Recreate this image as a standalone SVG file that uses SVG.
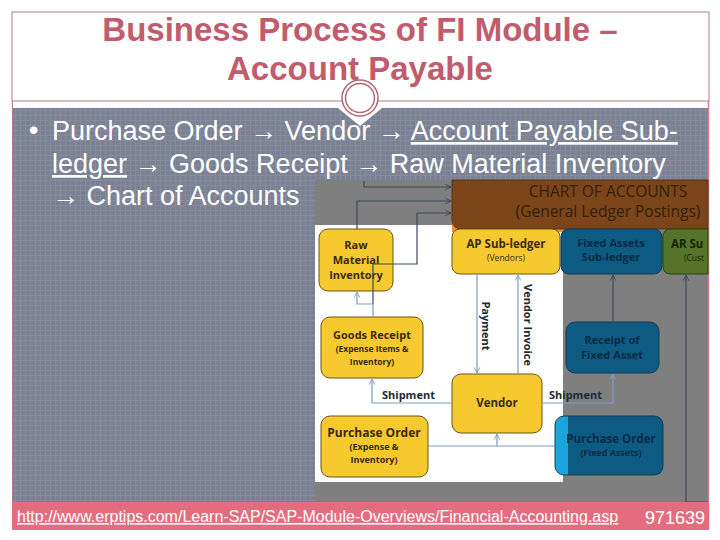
<svg xmlns="http://www.w3.org/2000/svg" width="720" height="540" viewBox="0 0 720 540">
<defs>
<pattern id="grid" width="5" height="5" patternUnits="userSpaceOnUse">
<rect width="5" height="5" fill="#7b8192"/>
<path d="M0 0.5H5M0.5 0V5" stroke="#868c9d" stroke-width="1"/>
</pattern>
<marker id="al" viewBox="0 0 10 10" refX="9" refY="5" markerWidth="7" markerHeight="7" orient="auto" markerUnits="userSpaceOnUse">
<path d="M1 1L9 5L1 9" fill="none" stroke="#7f9cc0" stroke-width="1.3"/>
</marker>
<marker id="ad" viewBox="0 0 10 10" refX="9" refY="5" markerWidth="7" markerHeight="7" orient="auto" markerUnits="userSpaceOnUse">
<path d="M1 1L9 5L1 9" fill="none" stroke="#3b4a5c" stroke-width="1.3"/>
</marker>
</defs>
<style>
.title{font-family:"Liberation Sans",Arial,sans-serif;font-weight:bold;font-size:33px;fill:#c25c6c;text-anchor:middle}
.bul{font-family:"Liberation Sans",Arial,sans-serif;font-size:27px;fill:#ffffff}
.n{font-family:"Open Sans","Liberation Sans",sans-serif;font-weight:bold;text-anchor:middle}
.y{fill:#f6c92e;stroke:#6b5417;stroke-width:1}
.yt{fill:#3b2a0c}
.b{fill:#0d5b82;stroke:#163a52;stroke-width:1}
.bt{fill:#082b44}
.lc{fill:none;stroke:#7f9cc0;stroke-width:1.2}
.dc{fill:none;stroke:#3b4a5c;stroke-width:1.2}
.lbl{font-family:"Open Sans","Liberation Sans",sans-serif;font-weight:bold;font-size:11px;fill:#1e2a33}
</style>
<rect width="720" height="540" fill="#ffffff"/>
<!-- title box -->
<g id="title-box">
<rect x="12" y="12" width="697" height="89" fill="#ffffff" stroke="#b07c88" stroke-width="1"/>
<text class="title" x="360" y="41">Business Process of FI Module –</text>
<text class="title" x="360" y="80">Account Payable</text>
</g>
<!-- content background -->
<rect x="12" y="108" width="697" height="394" fill="url(#grid)"/>
<line x1="12.5" y1="101" x2="12.5" y2="530" stroke="#b07c88" stroke-width="1"/>
<line x1="708.5" y1="101" x2="708.5" y2="530" stroke="#d9808e" stroke-width="1.5"/>
<g id="ornament">
<path d="M338 108 L360 126 L382 108 Z" fill="#ffffff"/>
<circle cx="360" cy="98" r="18" fill="#ffffff" stroke="#b06a78" stroke-width="1.5"/>
<circle cx="360" cy="98" r="14.5" fill="#ffffff" stroke="#b06a78" stroke-width="1.5"/>
</g>
<!-- bullet text -->
<g id="bullet">
<text class="bul" x="29" y="139" font-size="18">•</text>
<text class="bul" x="52" y="140">Purchase Order → Vendor → <tspan text-decoration="underline">Account Payable Sub-</tspan></text>
<text class="bul" x="52" y="173"><tspan text-decoration="underline">ledger</tspan> → Goods Receipt → Raw Material Inventory</text>
<text class="bul" x="52" y="205">→ Chart of Accounts</text>
</g>
<!-- embedded diagram background -->
<rect x="315" y="180" width="393" height="322" fill="#7f7f7f"/>
<rect x="315" y="225" width="248" height="257" fill="#ffffff"/>
<!-- nodes -->
<g id="chart-of-accounts">
<rect x="452" y="224" width="111" height="8" fill="#f08a3a"/>
<path d="M452 180 H708 V229 H462 Q452 229 452 219 Z" fill="#7b4519" stroke="#4a2a10" stroke-width="0.8"/>
<text class="n" x="608" y="197" font-size="15.5" fill="#33200d" style="font-weight:normal">CHART OF ACCOUNTS</text>
<text class="n" x="608" y="217" font-size="15.5" fill="#33200d" style="font-weight:normal">(General Ledger Postings)</text>
</g>
<g id="raw-material">
<rect class="y" x="319" y="229" width="74" height="62" rx="9"/>
<text class="n yt" x="356" y="249" font-size="11">Raw</text>
<text class="n yt" x="356" y="264" font-size="11">Material</text>
<text class="n yt" x="356" y="279" font-size="11">Inventory</text>
</g>
<g id="ap-subledger">
<rect class="y" x="452" y="229" width="108" height="45" rx="8"/>
<text class="n yt" x="506" y="248" font-size="11.5">AP Sub-ledger</text>
<text class="n yt" x="506" y="261" font-size="8.5" style="font-weight:normal">(Vendors)</text>
</g>
<g id="fa-subledger">
<rect class="b" x="561" y="229" width="101" height="45" rx="8"/>
<text class="n bt" x="611" y="247" font-size="11">Fixed Assets</text>
<text class="n bt" x="611" y="261" font-size="11">Sub-ledger</text>
</g>
<g id="ar-subledger">
<path d="M671 229 H708 V274 H671 Q663 274 663 266 V237 Q663 229 671 229 Z" fill="#557429" stroke="#2f4216" stroke-width="1"/>
<text class="n" x="671" y="248" font-size="11.5" fill="#172407" style="text-anchor:start">AR Su</text>
<text class="n" x="684" y="261" font-size="8.5" fill="#172407" style="text-anchor:start;font-weight:normal">(Cust</text>
</g>
<g id="goods-receipt">
<rect class="y" x="321" y="317" width="102" height="61" rx="9"/>
<text class="n yt" x="372" y="339" font-size="11">Goods Receipt</text>
<text class="n yt" x="372" y="352" font-size="8.5">(Expense Items &amp;</text>
<text class="n yt" x="372" y="365" font-size="8.5">Inventory)</text>
</g>
<g id="vendor">
<rect class="y" x="452" y="374" width="90" height="59" rx="9"/>
<text class="n yt" x="497" y="407" font-size="11.5">Vendor</text>
</g>
<g id="receipt-fixed-asset">
<rect class="b" x="566" y="322" width="93" height="51" rx="9"/>
<text class="n bt" x="612" y="344" font-size="11">Receipt of</text>
<text class="n bt" x="612" y="359" font-size="11">Fixed Asset</text>
</g>
<g id="po-expense">
<rect class="y" x="321" y="416" width="107" height="61" rx="9"/>
<text class="n yt" x="374" y="437" font-size="12">Purchase Order</text>
<text class="n yt" x="374" y="450" font-size="9">(Expense &amp;</text>
<text class="n yt" x="374" y="463" font-size="9">Inventory)</text>
</g>
<g id="po-fixed-assets">
<rect x="555" y="416" width="108" height="59" rx="9" fill="#1aa5dc"/>
<path d="M568 416 H654 Q663 416 663 425 V466 Q663 475 654 475 H568 Z" fill="#0d5b82"/>
<rect x="555" y="416" width="108" height="59" rx="9" fill="none" stroke="#163a52" stroke-width="1"/>
<text class="n bt" x="611" y="443" font-size="11.5">Purchase Order</text>
<text class="n bt" x="611" y="456" font-size="9">(Fixed Assets)</text>
</g>
<!-- connectors -->
<g id="connectors">
<path class="dc" d="M364 181 V187 H451" marker-end="url(#ad)"/>
<path class="dc" d="M357 229 V201 H451" marker-end="url(#ad)"/>
<path class="dc" d="M373 304 V264 H417 V213 H451" marker-end="url(#ad)"/>
<path class="lc" d="M373 317 V304 H357 V292" marker-end="url(#al)"/>
<path class="lc" d="M477 274 V373" marker-end="url(#al)"/>
<path class="lc" d="M518 374 V275" marker-end="url(#al)"/>
<path class="lc" d="M452 403 H372 V379" marker-end="url(#al)"/>
<path class="lc" d="M542 403 H613 V374" marker-end="url(#al)"/>
<path class="lc" d="M428 446 H555"/>
<path class="lc" d="M497 446 V434" marker-end="url(#al)"/>
<path class="dc" d="M613 322 V275" marker-end="url(#ad)"/>
<path class="dc" d="M708 502 H686 V275" marker-end="url(#ad)"/>
<text class="lbl" x="382" y="399">Shipment</text>
<text class="lbl" x="549" y="399">Shipment</text>
<text class="lbl" transform="translate(482 326) rotate(90)" text-anchor="middle">Payment</text>
<text class="lbl" transform="translate(524 325) rotate(90)" text-anchor="middle">Vendor Invoice</text>
</g>
<!-- footer -->
<g id="footer">
<rect x="12" y="502" width="697" height="28" fill="#e36d7e"/>
<text x="17" y="522" font-family="Liberation Sans, Arial, sans-serif" font-size="16" fill="#ffffff" text-decoration="underline">http://www.erptips.com/Learn-SAP/SAP-Module-Overviews/Financial-Accounting.asp</text>
<text x="705" y="524" font-family="Liberation Sans, Arial, sans-serif" font-size="18" fill="#ffffff" text-anchor="end">971639</text>
</g>
</svg>
